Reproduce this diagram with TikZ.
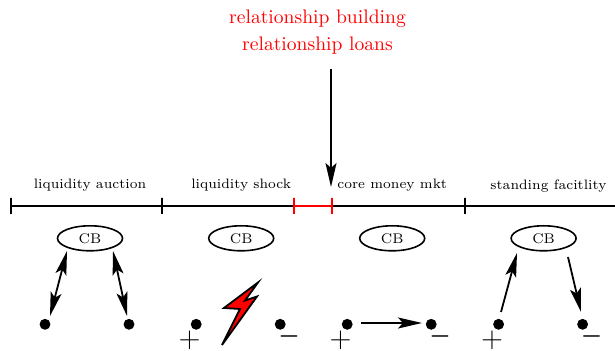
\documentclass[tikz,border=0pt]{standalone}
\usepackage{tikz}
\usetikzlibrary{positioning, arrows.meta, shapes.geometric}

\begin{document}
\begin{tikzpicture}
    [
        x=0.5pt, y=-0.5pt,
        on grid,
        node distance=42pt and 42pt,
        tick/.style={draw, line width=0.9pt, rectangle, inner sep=0pt, minimum width=0pt, minimum height=8pt},
        span/.style={line width=0.9pt},
        cb/.style={draw, ellipse, thick, minimum width=32.5pt, minimum height=12.5pt, inner sep=0pt, font=\scriptsize},
        dot/.style={draw, circle, fill, inner sep=0pt, minimum size=5pt},
        head/.style={font=\scriptsize, scale=0.975},
        top/.style={red, scale=0.98},
        plus/.style={inner sep=0pt, font=\Large},
        minus/.style={inner sep=0pt, font=\large\boldmath},
        arrow/.style={line width=0.9pt, -{Stealth[length=12pt, width=5.5pt, inset=2.5pt]}},
        twoway/.style={line width=0.9pt, {Stealth[length=12pt, width=5.5pt, inset=2.5pt]}-{Stealth[length=12pt, width=5.5pt, inset=2.5pt]}}
    ]
        \useasboundingbox (0,0) rectangle (615,351);
        % =========================================================================
        % NODES
        % =========================================================================
        % --- Timeline ---
        \node [tick] (t0) at (11,206) {};
        \node [tick, right=75.5pt of t0] (t1) {};
        \node [tick, red, right=66pt of t1] (t2) {};
        \node [tick, red, right=19pt of t2] (t3) {};
        \node [tick, right=66.5pt of t3] (t4) {};
        \node [tick, right=75.5pt of t4] (t5) {};
        % --- Central banks ---
        \node [cb] (cb1) at (90,238.3) {CB};
        \node [cb, right=75.6pt of cb1] (cb2) {CB};
        \node [cb, right=75.5pt of cb2] (cb3) {CB};
        \node [cb, right=75.7pt of cb3] (cb4) {CB};
        % --- Period labels ---
        \node [head, above=26.7pt of cb1] (lab1) {liquidity auction};
        \node [head, above=26.7pt of cb2] (lab2) {liquidity shock};
        \node [head, above=26.7pt of cb3] (lab3) {core money mkt};
        \node [head, above=26.2pt of cb4, xshift=2.5pt] (lab4) {standing facitlity};
        % --- Top text ---
        \node [top] (build) at (317.5,18.5) {relationship building};
        \node [top, below=13.5pt of build] (loans) {relationship loans};
        % --- Banks ---
        \node [dot, below left=43pt and 22.5pt of cb1] (a1) {};
        \node [dot, right=42pt of a1] (b1) {};
        \node [dot, below left=43pt and 22.5pt of cb2] (a2) {};
        \node [dot, right=42pt of a2] (b2) {};
        \node [dot, below left=43pt and 22.5pt of cb3] (a3) {};
        \node [dot, right=42pt of a3] (b3) {};
        \node [dot, below left=43pt and 22.5pt of cb4] (a4) {};
        \node [dot, right=42pt of a4] (b4) {};
        % --- Signs ---
        \node [plus, below left=7.9pt and 3.3pt of a2] (plus2) {$+$};
        \node [minus, below right=6pt and 4.5pt of b2] (minus2) {$-$};
        \node [plus, below left=7.9pt and 3.3pt of a3] (plus3) {$+$};
        \node [minus, below right=6pt and 4.5pt of b3] (minus3) {$-$};
        \node [plus, below left=7.9pt and 3.3pt of a4] (plus4) {$+$};
        \node [minus, below right=6pt and 4.5pt of b4] (minus4) {$-$};
        % --- Arrow ends ---
        \coordinate (e0) at (331,69);
        \coordinate (e1) at (67,251);
        \coordinate (e2) at (50,316);
        \coordinate (e3) at (113,251);
        \coordinate (e4) at (127,316);
        \coordinate (e5) at (361,323);
        \coordinate (e6) at (422,323);
        \coordinate (e7) at (501,312);
        \coordinate (e8) at (517,253);
        \coordinate (e9) at (568,257);
        \coordinate (e10) at (581,312);
        \coordinate (e11) at (331,187);

        % =========================================================================
        % PATHS
        % =========================================================================
        % --- Timeline ---
        \draw [span] (t0) -- (t1);
        \draw [span] (t1) -- (t2);
        \draw [span, red] (t2) -- (t3);
        \draw [span] (t3) -- (t4);
        \draw [span] (t4) -- (t5);
        % --- Flows ---
        \draw [arrow] (e0) -- (e11);
        \draw [twoway] (e2) -- (e1);
        \draw [twoway] (e4) -- (e3);
        \draw [arrow] (e5) -- (e6);
        \draw [arrow] (e7) -- (e8);
        \draw [arrow] (e9) -- (e10);
        % --- Shock ---
        \draw [line width=0.9pt, fill=red, line join=miter] (258,282.5) -- (224,308) -- (240,309) -- (222,345)
            -- (257,296.5) -- (245,300.5) -- cycle;

    \end{tikzpicture}
\end{document}
